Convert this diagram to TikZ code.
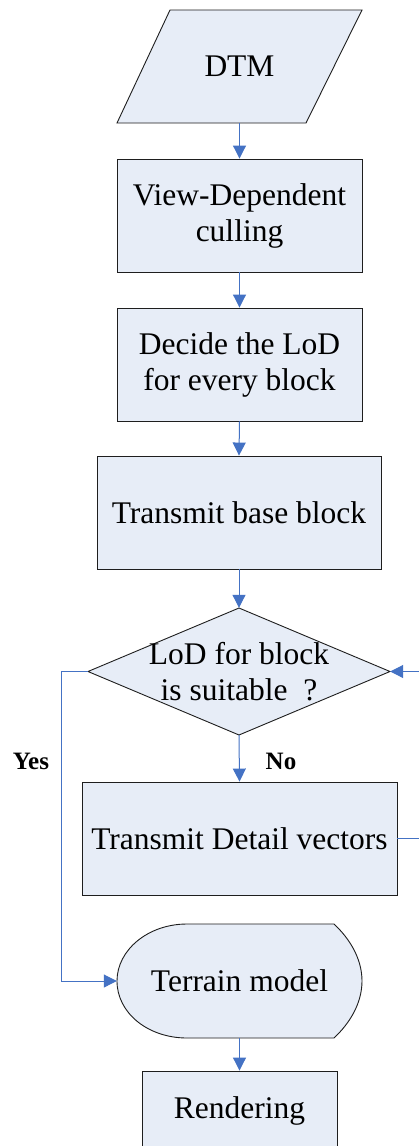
\documentclass[tikz,border=0pt]{standalone}
\usepackage{fontspec}
\setmainfont{Liberation Serif}
\usetikzlibrary{arrows.meta}
\definecolor{boxfill}{RGB}{231,237,247}
\definecolor{boxline}{RGB}{30,30,30}
\definecolor{arrowblue}{RGB}{68,114,196}
\begin{document}
\begin{tikzpicture}[x=1pt,y=-1pt,
  txt/.style={font=\fontsize{31.5}{36}\selectfont, align=center, inner sep=0pt},
  procbox/.style={txt, draw=boxline, fill=boxfill, line width=0.9pt, minimum height=113pt},
  ghost/.style={txt, minimum height=113pt},
  outline/.style={draw=boxline, fill=boxfill, line width=0.9pt},
  flow/.style={draw=arrowblue, line width=1pt, -{Triangle[length=13pt,width=13pt]}},
  lbl/.style={font=\fontsize{25}{30}\selectfont\bfseries, inner sep=0pt, anchor=base}]
\useasboundingbox (0,0) rectangle (418,1146);
\fill[white] (0,0) rectangle (418,1146);
% outlines of special shapes
\draw[outline] (117,123) -- (170,10) -- (362,10) -- (306,123) -- cycle;
\draw[outline] (88,671.5) -- (239,608) -- (390,671.5) -- (239,735) -- cycle;
\draw[outline] (187,924) -- (334,924) .. controls (349,938) and (362,958) .. (362,981)
  .. controls (362,1004) and (349,1024) .. (334,1038) -- (187,1038)
  .. controls (148,1038) and (117,1013) .. (117,981)
  .. controls (117,950) and (148,924) .. (187,924) -- cycle;
% nodes
\node[ghost, minimum width=245pt] (dtm) at (239.5,66.5) {DTM};
\node[procbox, minimum width=245pt] (view) at (239.5,215.5) {View-Dependent\\culling};
\node[procbox, minimum width=245pt] (decide) at (239.5,364.5) {Decide the LoD\\for every block};
\node[procbox, minimum width=284pt] (base) at (239,512.5) {Transmit base block};
\node[ghost, minimum width=302pt, minimum height=127pt] (dec) at (239,671.5) {LoD for block\\is suitable \ ?};
\node[procbox, minimum width=315pt] (detail) at (239.5,838.5) {Transmit Detail vectors};
\node[ghost, minimum width=245pt, minimum height=114pt] (terrain) at (239.5,981) {Terrain model};
\node[procbox, minimum width=195pt, minimum height=80pt] (render) at (239.5,1111) {Rendering};
\node[lbl] (yes) at (31,769) {Yes};
\node[lbl] (no) at (281,769) {No};
\coordinate (loop) at (432,838.5);
\coordinate (yc) at (61,981);
% connectors
\draw[flow] (dtm.south) -- (view.north);
\draw[flow] (view.south) -- (decide.north);
\draw[flow] (decide.south) -- (base.north);
\draw[flow] (base.south) -- (dec.north);
\draw[flow] (dec.south) -- (detail.north);
\draw[flow] (detail.east) -- (loop) |- (dec.east);
\draw[flow] (dec.west) -| (yc) -- (terrain.west);
\draw[flow] (terrain.south) -- (render.north);
\end{tikzpicture}
\end{document}
